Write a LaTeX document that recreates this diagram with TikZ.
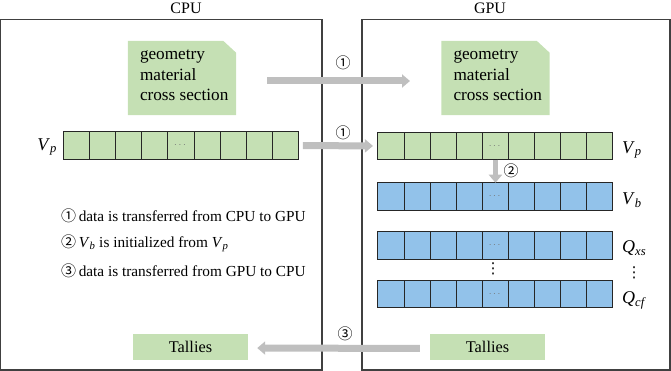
\documentclass[tikz,border=0pt]{standalone}
\usepackage{amsmath}
\usepackage{fontspec}
\setmainfont{Liberation Serif}
\newfontfamily\serif{Liberation Serif}
\newfontfamily\symfont{DejaVu Sans}
\newfontfamily\cjk{Noto Sans CJK SC}
\usetikzlibrary{arrows.meta,backgrounds}
\definecolor{cellgreen}{HTML}{C5E0B4}
\definecolor{cellblue}{HTML}{92C2EA}
\definecolor{arrowgray}{HTML}{BFBFBF}
\definecolor{framegray}{HTML}{404040}
\newcommand\vsub[2]{\textit{#1}\ensuremath{_{\textit{#2}}}}
\newcommand\circnum[1]{{\cjk\fontsize{15}{15}\selectfont #1}}
\begin{document}
\begin{tikzpicture}[x=1pt,y=-1pt,
  frame/.style={draw=framegray,line width=1.3pt},
  cellbase/.style={draw=black!85,line width=1pt,minimum width=26.2pt,minimum height=27.5pt,inner sep=0pt,outer sep=0pt},
  cellg/.style={cellbase,fill=cellgreen},
  cellb/.style={cellbase,fill=cellblue},
  celldots/.style={inner sep=0pt,text=black!55,font=\fontsize{10}{10}\selectfont},
  docbox/.style={minimum width=108pt,minimum height=74pt,inner sep=0pt},
  doctext/.style={anchor=west,align=left,inner sep=0pt,font=\serif\fontsize{17.2}{20.5}\selectfont},
  tallybox/.style={fill=cellgreen,minimum width=115pt,minimum height=26pt,inner sep=0pt,font=\serif\fontsize{16.3}{18}\selectfont},
  garrow/.style={draw=arrowgray,line width=7pt,-{Triangle[width=13pt,length=8pt]}},
  numlabel/.style={inner sep=0pt,font=\cjk\fontsize{15}{15}\selectfont},
  title/.style={anchor=base,inner sep=0pt,font=\serif\fontsize{16}{18}\selectfont},
  varlabel/.style={anchor=west,inner sep=0pt,font=\serif\fontsize{18}{20}\selectfont},
  legend/.style={anchor=west,inner sep=0pt,font=\serif\fontsize{15.3}{18}\selectfont},
  vdotlabel/.style={inner sep=0pt,font=\symfont\fontsize{15}{15}\selectfont}
]
\useasboundingbox (0,0) rectangle (671,371);
% frames
\draw[frame] (0.7,19.5) rectangle (322,370);
\draw[frame] (362,19.5) rectangle (670,370);
\node[title] (cpu) at (186,13.5) {CPU};
\node[title] (gpu) at (490,13.5) {GPU};

% document shapes
\node[docbox] (docL) at (182,78) {};
\node[docbox] (docR) at (495.5,78) {};
\begin{scope}[on background layer]
  \foreach \d in {docL,docR}{
    \fill[cellgreen] (\d.south west) -- (\d.north west) -- ([xshift=-13pt]\d.north east)
      -- ([yshift=-12pt]\d.north east) -- (\d.south east) -- cycle;
  }
\end{scope}
\node[doctext] (docLt) at ([xshift=12pt,yshift=2.5pt]docL.west) {geometry\\material\\cross section};
\node[doctext] (docRt) at ([xshift=12pt,yshift=2.5pt]docR.west) {geometry\\material\\cross section};

% cell rows
\foreach \i in {0,...,8}{
  \node[cellg] (vpL\i) at ({63+26.2*(\i+0.5)},145.5) {};
  \node[cellg] (vpR\i) at ({378+26.1*(\i+0.5)},146) {};
  \node[cellb] (vbR\i) at ({378+26.1*(\i+0.5)},196.5) {};
  \node[cellb] (qxR\i) at ({378+26.1*(\i+0.5)},245.5) {};
  \node[cellb] (qcR\i) at ({378+26.1*(\i+0.5)},294) {};
}
\foreach \r in {vpL,vpR,vbR,qxR,qcR}{
  \node[celldots] (\r d) at (\r4) {$\cdots$};
}
\node[vdotlabel] (vdotsA) at (493,269) {⋮};

% variable labels
\node[varlabel,anchor=east] (lvpL) at (57,147) {\vsub{V}{p}};
\node[varlabel] (lvpR) at (622,150) {\vsub{V}{p}};
\node[varlabel] (lvbR) at (622,200) {\vsub{V}{b}};
\node[varlabel] (lqxR) at (622,248) {\vsub{Q}{xs}};
\node[vdotlabel] (vdotsB) at (634,273) {⋮};
\node[varlabel] (lqcR) at (622,300) {\vsub{Q}{cf}};

% arrows
\coordinate (a1s) at (267,81);
\coordinate (a1e) at (410,81);
\draw[garrow] (a1s) -- (a1e);
\node[numlabel] (n1a) at (343,63) {①};
\draw[garrow,shorten <=4pt,shorten >=5pt] (vpL8.east) -- (vpR0.west);
\node[numlabel] (n1b) at (343,133) {①};
\draw[garrow,line width=5.5pt] (vpR4.south) -- (vbR4.north);
\node[numlabel] (n2) at (511,171) {②};

% tallies
\node[tallybox] (talL) at (190.5,346.5) {Tallies};
\node[tallybox] (talR) at (487.5,347) {Tallies};
\draw[garrow,shorten <=10pt,shorten >=9pt] ([yshift=-1.5pt]talR.west) -- ([yshift=-1.5pt]talL.east);
\node[numlabel] (n3) at (345,334) {③};

% legend
\node[legend] (leg1) at (61,216) {\circnum{①}\,data is transferred from CPU to GPU};
\node[legend] (leg2) at (61,243) {\circnum{②}\,\vsub{V}{b} is initialized from \vsub{V}{p}};
\node[legend] (leg3) at (61,271) {\circnum{③}\,data is transferred from GPU to CPU};
\end{tikzpicture}
\end{document}
